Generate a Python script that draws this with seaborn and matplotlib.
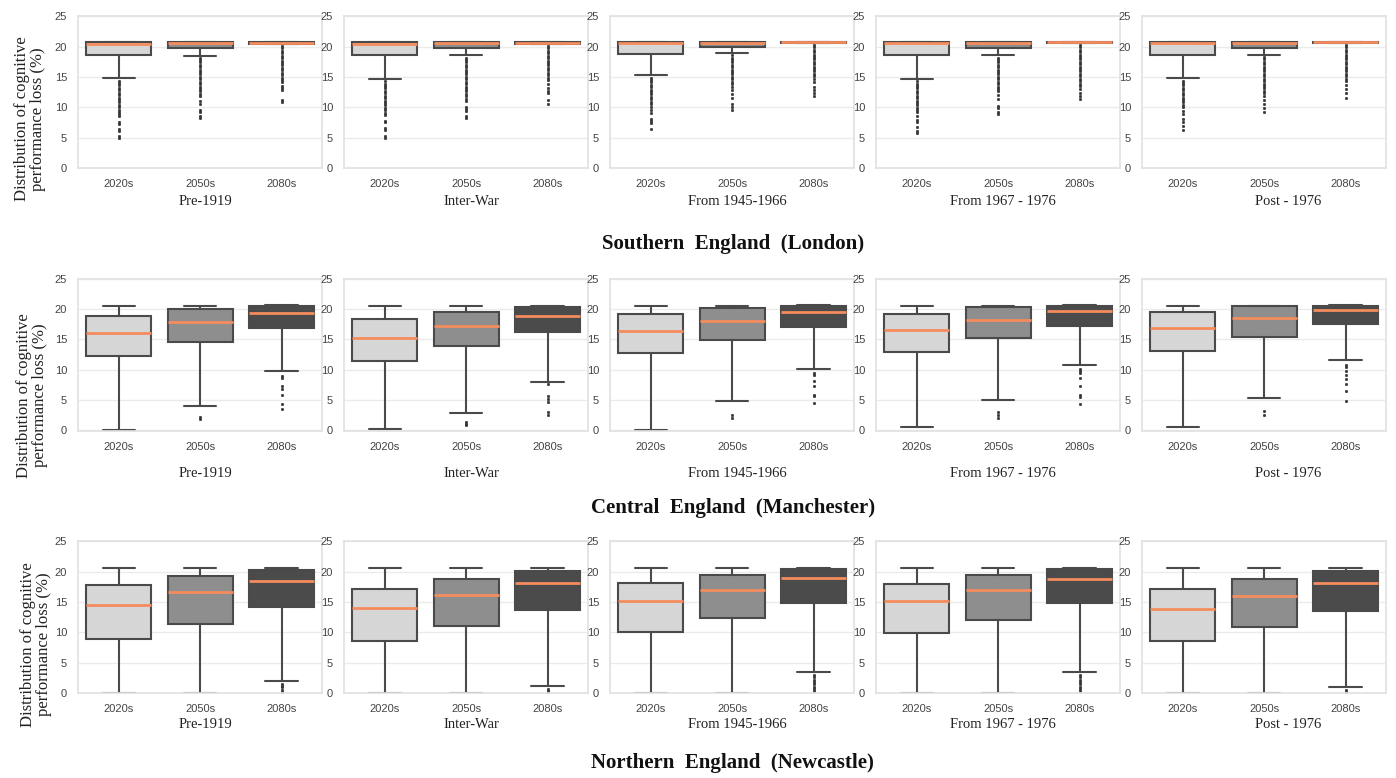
import numpy as np
import matplotlib
matplotlib.use("Agg")
import matplotlib.pyplot as plt
import seaborn as sns

periods = ["Pre-1919", "Inter-War", "From 1945-1966", "From 1967 - 1976", "Post - 1976"]
decades = ["2020s", "2050s", "2080s"]
regions = ["Southern  England  (London)", "Central  England  (Manchester)", "Northern  England  (Newcastle)"]

# box statistics per period (rows) and decade (columns)
lon_lo = [[14.8, 18.5, 20.4], [14.7, 18.6, 20.4], [15.3, 19.0, 20.6], [14.7, 18.6, 20.6], [14.8, 18.7, 20.6]]
lon_q1 = [[18.6, 19.8, 20.4], [18.6, 19.8, 20.4], [18.8, 20.0, 20.6], [18.6, 19.8, 20.6], [18.6, 19.8, 20.6]]
lon_med = [[20.5, 20.6, 20.6], [20.4, 20.6, 20.6], [20.6, 20.6, 20.7], [20.6, 20.6, 20.7], [20.6, 20.6, 20.7]]
lon_q3 = [[20.7, 20.7, 20.7], [20.7, 20.7, 20.7], [20.7, 20.7, 20.7], [20.7, 20.7, 20.7], [20.7, 20.7, 20.7]]
lon_hi = [[20.7, 20.7, 20.7], [20.7, 20.7, 20.7], [20.7, 20.7, 20.7], [20.7, 20.7, 20.7], [20.7, 20.7, 20.7]]
lon_fl = [
    [[14.4, 14.0, 13.6, 13.2, 12.8, 12.4, 12.0, 11.6, 11.2, 10.8, 10.4, 10.0, 9.6, 9.2, 8.8, 8.5, 7.6, 7.2, 6.4, 6.0, 5.3, 4.9],
     [18.2, 17.8, 17.4, 17.0, 16.6, 16.2, 15.8, 15.4, 15.0, 14.6, 14.2, 13.8, 13.4, 13.0, 12.6, 12.2, 11.8, 11.0, 10.6, 9.6, 9.2, 8.6, 8.2],
     [20.1, 19.7, 19.3, 18.9, 18.5, 18.1, 17.7, 17.3, 16.9, 16.5, 16.1, 15.7, 15.3, 14.9, 14.5, 14.1, 13.5, 13.1, 12.8, 11.2, 10.8]],
    [[14.3, 13.9, 13.5, 13.1, 12.7, 12.3, 11.9, 11.5, 11.1, 10.7, 10.3, 9.9, 9.5, 9.1, 8.7, 7.8, 7.5, 6.6, 6.3, 5.3, 4.9],
     [18.2, 17.8, 17.4, 17.0, 16.6, 16.2, 15.8, 15.4, 15.0, 14.6, 14.2, 13.8, 13.4, 13.0, 12.6, 12.2, 11.8, 11.4, 11.0, 10.0, 9.7, 9.4, 8.6, 8.2],
     [20.1, 19.7, 19.3, 18.9, 18.5, 18.1, 17.7, 17.3, 16.9, 16.5, 16.1, 15.7, 15.3, 14.9, 14.5, 13.9, 13.1, 12.7, 12.3, 11.2, 10.5]],
    [[14.9, 14.5, 14.1, 13.7, 13.3, 12.9, 12.5, 12.1, 11.7, 11.3, 10.9, 10.5, 10.1, 9.6, 9.0, 8.1, 7.8, 7.4, 6.4],
     [18.6, 18.2, 17.8, 17.4, 17.0, 16.6, 16.2, 15.8, 15.4, 15.0, 14.6, 14.2, 13.8, 13.4, 12.8, 12.2, 11.6, 10.6, 10.1, 9.5],
     [20.3, 19.9, 19.5, 19.1, 18.7, 18.3, 17.9, 17.5, 17.1, 16.7, 16.3, 15.9, 15.5, 15.1, 14.7, 14.2, 13.4, 12.8, 12.3, 11.8]],
    [[14.3, 13.9, 13.5, 13.1, 12.7, 12.3, 11.9, 11.5, 11.1, 10.7, 10.3, 9.9, 9.5, 9.2, 8.6, 7.9, 7.5, 6.8, 6.0, 5.7],
     [18.2, 17.8, 17.4, 17.0, 16.6, 16.2, 15.8, 15.4, 15.0, 14.6, 14.2, 13.8, 13.4, 13.0, 12.6, 12.0, 11.4, 10.2, 9.8, 9.2, 8.9],
     [20.3, 19.9, 19.5, 19.1, 18.7, 18.3, 17.9, 17.5, 17.1, 16.7, 16.3, 15.9, 15.5, 15.1, 14.7, 14.3, 13.9, 13.5, 13.0, 12.4, 11.8, 11.3]],
    [[14.4, 14.0, 13.6, 13.2, 12.8, 12.4, 12.0, 11.6, 11.2, 10.8, 10.4, 10.0, 9.4, 8.8, 8.0, 7.6, 6.9, 6.2],
     [18.3, 17.9, 17.5, 17.1, 16.7, 16.3, 15.9, 15.5, 15.1, 14.7, 14.3, 13.9, 13.5, 13.1, 12.7, 12.3, 11.8, 11.2, 10.6, 9.8, 9.2],
     [20.3, 19.9, 19.5, 19.1, 18.7, 18.3, 17.9, 17.5, 17.1, 16.7, 16.3, 15.9, 15.5, 15.1, 14.7, 14.3, 13.6, 13.0, 12.4, 11.6]],
]

man_lo = [[0.1, 4.1, 9.8], [0.2, 2.8, 8.0], [0.1, 4.9, 10.2], [0.5, 5.0, 10.8], [0.5, 5.3, 11.6]]
man_q1 = [[12.2, 14.6, 16.9], [11.4, 13.9, 16.2], [12.7, 14.9, 17.1], [12.9, 15.2, 17.2], [13.1, 15.4, 17.5]]
man_med = [[16.1, 17.9, 19.4], [15.2, 17.2, 18.9], [16.4, 18.1, 19.6], [16.5, 18.2, 19.7], [16.9, 18.5, 19.9]]
man_q3 = [[18.9, 20.0, 20.6], [18.3, 19.6, 20.4], [19.2, 20.2, 20.6], [19.2, 20.3, 20.6], [19.5, 20.5, 20.6]]
man_hi = [[20.6, 20.6, 20.7], [20.6, 20.6, 20.6], [20.6, 20.6, 20.7], [20.6, 20.6, 20.7], [20.6, 20.6, 20.7]]
man_fl = [
    [[], [2.2, 1.8], [9.0, 8.7, 7.4, 6.8, 5.8, 4.3, 3.5]],
    [[], [1.4, 1.1, 0.9], [7.6, 5.7, 5.2, 4.6, 3.1, 2.5]],
    [[], [2.5, 2.0], [9.5, 9.2, 8.2, 7.3, 5.9, 5.6, 4.5]],
    [[], [3.0, 2.6, 2.0], [10.2, 9.8, 9.4, 8.6, 7.4, 5.9, 5.5, 4.4]],
    [[], [3.2, 2.6], [10.8, 10.4, 9.8, 9.2, 8.4, 7.6, 6.5, 4.8]],
]

new_lo = [[0.0, 0.0, 2.0], [0.0, 0.0, 1.1], [0.0, 0.0, 3.5], [0.0, 0.0, 3.4], [0.0, 0.0, 1.0]]
new_q1 = [[8.9, 11.4, 14.2], [8.6, 11.1, 13.7], [10.1, 12.3, 14.8], [9.9, 12.1, 14.8], [8.5, 10.9, 13.6]]
new_med = [[14.5, 16.6, 18.5], [14.0, 16.2, 18.1], [15.2, 17.0, 18.9], [15.1, 17.0, 18.8], [13.9, 16.0, 18.1]]
new_q3 = [[17.8, 19.3, 20.3], [17.2, 18.8, 20.1], [18.1, 19.5, 20.5], [18.0, 19.4, 20.5], [17.1, 18.8, 20.1]]
new_hi = [[20.6, 20.6, 20.6], [20.6, 20.6, 20.6], [20.6, 20.6, 20.6], [20.6, 20.6, 20.6], [20.6, 20.6, 20.6]]
new_fl = [
    [[], [], [1.5, 1.2, 0.9, 0.5, 0.2]],
    [[], [], [0.6, 0.3, 0.1]],
    [[], [], [3.0, 2.6, 2.2, 1.8, 1.4, 1.0, 0.6, 0.3]],
    [[], [], [3.0, 2.6, 2.2, 1.8, 1.4, 1.0, 0.6, 0.3]],
    [[], [], [0.5, 0.2]],
]

box_colors = ["#d6d6d6", "#8e8e8e", "#4b4b4b"]
edge = "#4a4a4a"
orange = "#f58c5e"

sns.set_theme(style="whitegrid")
plt.rcParams["font.family"] = ["Liberation Sans", "DejaVu Sans"]

fig, axes = plt.subplots(3, 5, figsize=(13.96, 7.78), dpi=100)
fig.subplots_adjust(left=0.056, right=0.993, top=0.979, bottom=0.109, wspace=0.09, hspace=0.73)

region_data = [
    (lon_lo, lon_q1, lon_med, lon_q3, lon_hi, lon_fl),
    (man_lo, man_q1, man_med, man_q3, man_hi, man_fl),
    (new_lo, new_q1, new_med, new_q3, new_hi, new_fl),
]
label_y = [-0.18, -0.24, -0.165]

for r, (lo, q1, med, q3, hi, fl) in enumerate(region_data):
    for p in range(5):
        ax = axes[r, p]
        stats = []
        for d in range(3):
            stats.append(dict(whislo=lo[p][d], q1=q1[p][d], med=med[p][d],
                              q3=q3[p][d], whishi=hi[p][d], fliers=fl[p][d]))
        bp = ax.bxp(stats, positions=[0, 1, 2], widths=0.8, capwidths=0.4,
                    patch_artist=True, showfliers=True,
                    boxprops=dict(edgecolor=edge, linewidth=1.5),
                    whiskerprops=dict(color=edge, linewidth=1.5),
                    capprops=dict(color=edge, linewidth=1.5),
                    medianprops=dict(color=orange, linewidth=2),
                    flierprops=dict(marker="o", markersize=1.8, markeredgewidth=0.4,
                                    markerfacecolor="#333333", markeredgecolor="#333333"))
        for patch, c in zip(bp["boxes"], box_colors):
            patch.set_facecolor(c)
        ax.set_xlim(-0.5, 2.5)
        ax.set_ylim(-0.05, 25)
        ax.set_yticks([0, 5, 10, 15, 20, 25])
        ax.set_xticks([0, 1, 2], decades)
        ax.tick_params(labelsize=8, colors="#444444", pad=2)
        ax.xaxis.grid(False)
        ax.yaxis.grid(True, color="#ebebeb", linewidth=1)
        for s in ax.spines.values():
            s.set_color("#e2e2e2")
        ax.set_xlabel(periods[p], family="Liberation Serif", fontsize=10.5, color="#222222")
        ax.xaxis.set_label_coords(0.6 if p == 4 else 0.52, label_y[r])

ylab = "Distribution of cognitive\nperformance loss (%)"
for (x, y) in [(0.0215, 0.847), (0.023, 0.492), (0.026, 0.172)]:
    fig.text(x, y, ylab, rotation=90, ha="center", va="center", multialignment="center",
             family="Liberation Serif", fontsize=12, color="#222222", linespacing=1.0)

for y, t in zip([0.686, 0.347, 0.019], regions):
    fig.text(0.525, y, t, ha="center", va="center", family="Liberation Serif",
             fontsize=15, fontweight="bold", color="#111111")

plt.savefig("out.png", dpi=100)
plt.close()
